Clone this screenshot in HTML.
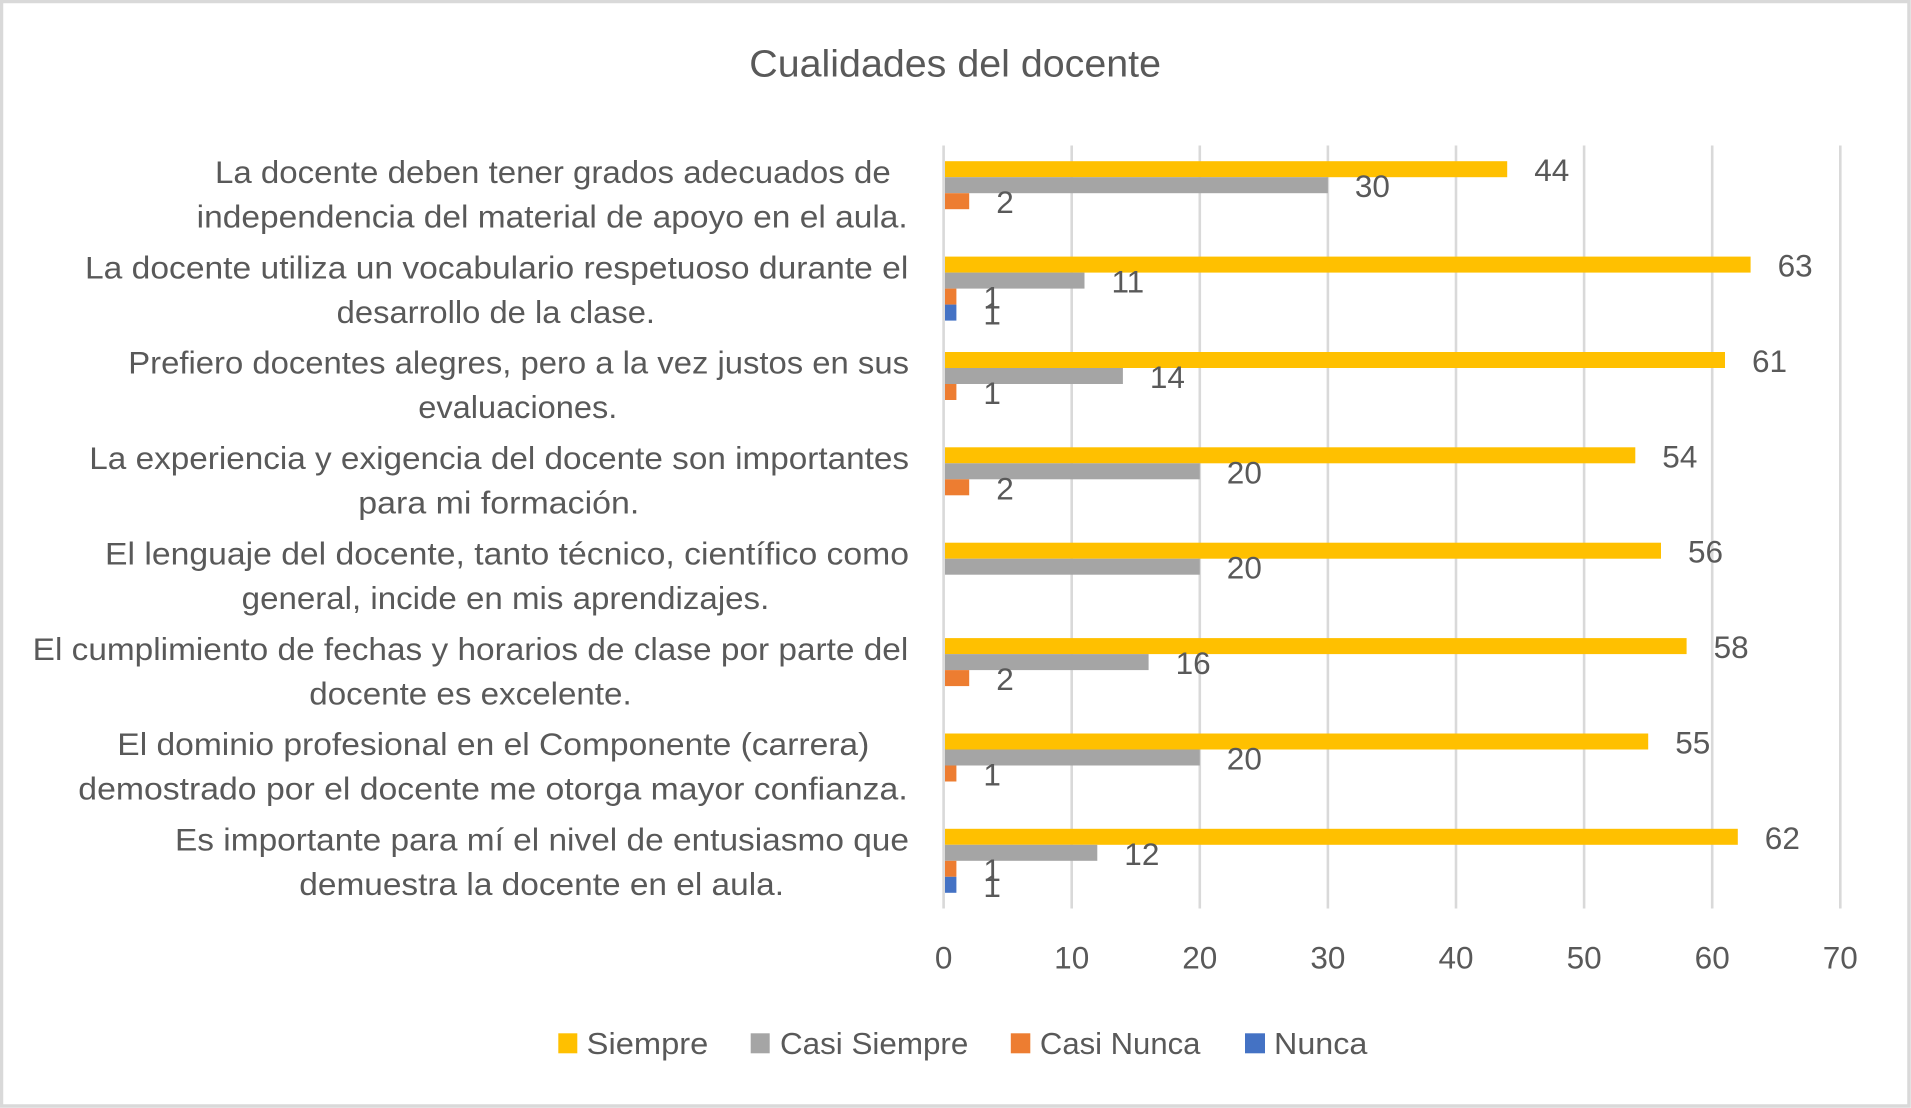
<!DOCTYPE html>
<html>
<head>
<meta charset="utf-8">
<style>
html,body{margin:0;padding:0;background:#fff;}
svg{display:block;}
text{font-family:"Liberation Sans",Arial,sans-serif;fill:#595959;}
</style>
</head>
<body>
<svg width="1911" height="1108" viewBox="0 0 1911 1108" xmlns="http://www.w3.org/2000/svg">
<rect x="0" y="0" width="1911" height="1108" fill="#ffffff"/>
<!-- border -->
<rect x="1.5" y="1.5" width="1907.5" height="1104.5" fill="none" stroke="#d9d9d9" stroke-width="3.5"/>

<!-- title -->
<text x="749.3" y="76.7" font-size="38" textLength="411.7" lengthAdjust="spacingAndGlyphs">Cualidades del docente</text>

<!-- gridlines -->
<g stroke="#d9d9d9" stroke-width="2.6">
<line x1="943.6" y1="145.5" x2="943.6" y2="908.5"/>
<line x1="1071.7" y1="145.5" x2="1071.7" y2="908.5"/>
<line x1="1199.8" y1="145.5" x2="1199.8" y2="908.5"/>
<line x1="1327.9" y1="145.5" x2="1327.9" y2="908.5"/>
<line x1="1456.0" y1="145.5" x2="1456.0" y2="908.5"/>
<line x1="1584.1" y1="145.5" x2="1584.1" y2="908.5"/>
<line x1="1712.2" y1="145.5" x2="1712.2" y2="908.5"/>
<line x1="1840.3" y1="145.5" x2="1840.3" y2="908.5"/>
</g>

<!-- tick labels -->
<g font-size="31.5" text-anchor="middle">
<text x="943.6" y="968.5">0</text>
<text x="1071.7" y="968.5">10</text>
<text x="1199.8" y="968.5">20</text>
<text x="1327.9" y="968.5">30</text>
<text x="1456.0" y="968.5">40</text>
<text x="1584.1" y="968.5">50</text>
<text x="1712.2" y="968.5">60</text>
<text x="1840.3" y="968.5">70</text>
</g>

<!-- bars -->
<g>
<!-- cat 1 -->
<rect x="945" y="161.2" width="562.2" height="16" fill="#FFC000"/>
<rect x="945" y="177.2" width="382.9" height="16" fill="#A5A5A5"/>
<rect x="945" y="193.2" width="24.2" height="16" fill="#ED7D31"/>
<!-- cat 2 -->
<rect x="945" y="256.6" width="805.6" height="16" fill="#FFC000"/>
<rect x="945" y="272.6" width="139.5" height="16" fill="#A5A5A5"/>
<rect x="945" y="288.6" width="11.4" height="16" fill="#ED7D31"/>
<rect x="945" y="304.6" width="11.4" height="16" fill="#4472C4"/>
<!-- cat 3 -->
<rect x="945" y="352.0" width="780.0" height="16" fill="#FFC000"/>
<rect x="945" y="368.0" width="177.9" height="16" fill="#A5A5A5"/>
<rect x="945" y="384.0" width="11.4" height="16" fill="#ED7D31"/>
<!-- cat 4 -->
<rect x="945" y="447.3" width="690.3" height="16" fill="#FFC000"/>
<rect x="945" y="463.3" width="254.8" height="16" fill="#A5A5A5"/>
<rect x="945" y="479.3" width="24.2" height="16" fill="#ED7D31"/>
<!-- cat 5 -->
<rect x="945" y="542.7" width="716.0" height="16" fill="#FFC000"/>
<rect x="945" y="558.7" width="254.8" height="16" fill="#A5A5A5"/>
<!-- cat 6 -->
<rect x="945" y="638.1" width="741.6" height="16" fill="#FFC000"/>
<rect x="945" y="654.1" width="203.6" height="16" fill="#A5A5A5"/>
<rect x="945" y="670.1" width="24.2" height="16" fill="#ED7D31"/>
<!-- cat 7 -->
<rect x="945" y="733.5" width="703.2" height="16" fill="#FFC000"/>
<rect x="945" y="749.5" width="254.8" height="16" fill="#A5A5A5"/>
<rect x="945" y="765.5" width="11.4" height="16" fill="#ED7D31"/>
<!-- cat 8 -->
<rect x="945" y="828.8" width="792.8" height="16" fill="#FFC000"/>
<rect x="945" y="844.8" width="152.3" height="16" fill="#A5A5A5"/>
<rect x="945" y="860.8" width="11.4" height="16" fill="#ED7D31"/>
<rect x="945" y="876.8" width="11.4" height="16" fill="#4472C4"/>
</g>

<!-- data labels -->
<g font-size="31.5">
<text x="1534.2" y="181.2">44</text>
<text x="1354.9" y="197.2">30</text>
<text x="996.2" y="213.2">2</text>

<text x="1777.6" y="276.6">63</text>
<text x="1111.5" y="292.6">11</text>
<text x="983.4" y="308.6">1</text>
<text x="983.4" y="324.6">1</text>

<text x="1752.0" y="372.0">61</text>
<text x="1149.9" y="388.0">14</text>
<text x="983.4" y="404.0">1</text>

<text x="1662.3" y="467.3">54</text>
<text x="1226.8" y="483.3">20</text>
<text x="996.2" y="499.3">2</text>

<text x="1688.0" y="562.7">56</text>
<text x="1226.8" y="578.7">20</text>

<text x="1713.6" y="658.1">58</text>
<text x="1175.6" y="674.1">16</text>
<text x="996.2" y="690.1">2</text>

<text x="1675.2" y="753.5">55</text>
<text x="1226.8" y="769.5">20</text>
<text x="983.4" y="785.5">1</text>

<text x="1764.8" y="848.8">62</text>
<text x="1124.3" y="864.8">12</text>
<text x="983.4" y="880.8">1</text>
<text x="983.4" y="896.8">1</text>
</g>

<!-- category labels -->
<g font-size="31.5" lengthAdjust="spacingAndGlyphs">
<text x="215" y="182.9" textLength="675.7" lengthAdjust="spacingAndGlyphs">La docente deben tener grados adecuados de</text>
<text x="196.7" y="227.5" textLength="711" lengthAdjust="spacingAndGlyphs">independencia del material de apoyo en el aula.</text>

<text x="85" y="278.3" textLength="823.3" lengthAdjust="spacingAndGlyphs">La docente utiliza un vocabulario respetuoso durante el</text>
<text x="336.7" y="322.9" textLength="318.3" lengthAdjust="spacingAndGlyphs">desarrollo de la clase.</text>

<text x="128.3" y="373.6" textLength="780.7" lengthAdjust="spacingAndGlyphs">Prefiero docentes alegres, pero a la vez justos en sus</text>
<text x="418.3" y="418.2" textLength="199" lengthAdjust="spacingAndGlyphs">evaluaciones.</text>

<text x="89.3" y="469.0" textLength="819.7" lengthAdjust="spacingAndGlyphs">La experiencia y exigencia del docente son importantes</text>
<text x="358.3" y="513.6" textLength="281" lengthAdjust="spacingAndGlyphs">para mi formación.</text>

<text x="105" y="564.4" textLength="804" lengthAdjust="spacingAndGlyphs">El lenguaje del docente, tanto técnico, científico como</text>
<text x="241.7" y="609.0" textLength="527.6" lengthAdjust="spacingAndGlyphs">general, incide en mis aprendizajes.</text>

<text x="32.7" y="659.8" textLength="875.6" lengthAdjust="spacingAndGlyphs">El cumplimiento de fechas y horarios de clase por parte del</text>
<text x="309.3" y="704.4" textLength="322.4" lengthAdjust="spacingAndGlyphs">docente es excelente.</text>

<text x="117.3" y="755.1" textLength="752" lengthAdjust="spacingAndGlyphs">El dominio profesional en el Componente (carrera)</text>
<text x="78.3" y="799.7" textLength="829.4" lengthAdjust="spacingAndGlyphs">demostrado por el docente me otorga mayor confianza.</text>

<text x="175" y="850.5" textLength="734" lengthAdjust="spacingAndGlyphs">Es importante para mí el nivel de entusiasmo que</text>
<text x="299.3" y="895.1" textLength="484.7" lengthAdjust="spacingAndGlyphs">demuestra la docente en el aula.</text>
</g>

<!-- legend -->
<rect x="558.3" y="1033.3" width="19" height="20" fill="#FFC000"/>
<text x="586.7" y="1054" font-size="31" textLength="121.6" lengthAdjust="spacingAndGlyphs">Siempre</text>
<rect x="750.7" y="1033.3" width="19" height="20" fill="#A5A5A5"/>
<text x="780" y="1054" font-size="31" textLength="188.3" lengthAdjust="spacingAndGlyphs">Casi Siempre</text>
<rect x="1010.8" y="1033.3" width="19.5" height="20" fill="#ED7D31"/>
<text x="1039.9" y="1054" font-size="31" textLength="160.5" lengthAdjust="spacingAndGlyphs">Casi Nunca</text>
<rect x="1245" y="1033.3" width="20" height="20" fill="#4472C4"/>
<text x="1274" y="1054" font-size="31" textLength="93.4" lengthAdjust="spacingAndGlyphs">Nunca</text>
</svg>
</body>
</html>
